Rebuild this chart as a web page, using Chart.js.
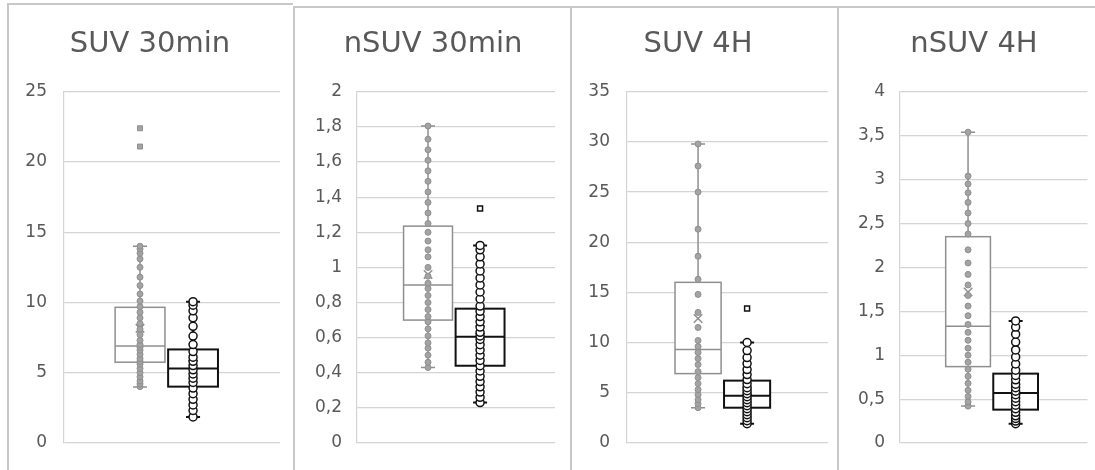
<!DOCTYPE html>
<html>
<head>
<meta charset="utf-8">
<script src="https://cdn.jsdelivr.net/npm/chart.js@4.4.1/dist/chart.umd.min.js"></script>
<style>
  body { margin: 0; background: #fff; width: 1095px; height: 470px; overflow: hidden; position: relative; }
  canvas { position: absolute; top: 0; }
  .frame { position: absolute; border-left: 2px solid #c8c8c8; border-top: 2px solid #c8c8c8; height: 470px; z-index: 2; }
</style>
</head>
<body>
<div class="frame" style="left:7px; top:3px; width:284px;"></div>
<div class="frame" style="left:293px; top:6px; width:276px;"></div>
<div class="frame" style="left:570px; top:6px; width:265px;"></div>
<div class="frame" style="left:837px; top:6px; width:258px;"></div>
<canvas id="suv30" width="283" height="470" style="left:9px"></canvas>
<canvas id="nsuv30" width="275" height="470" style="left:295px"></canvas>
<canvas id="suv4h" width="271" height="470" style="left:565px"></canvas>
<canvas id="nsuv4h" width="256" height="470" style="left:839px"></canvas>
<script>
// box stats: [whisker low, Q1, median, Q3, whisker high, mean]
// ---- SUV 30min
const suv30Ticks = [0, 5, 10, 15, 20, 25];
const suv30GrayStats = [3.97, 5.74, 6.9, 9.65, 14.0, 8.15];
const suv30GrayPoints = [4.0, 4.2, 4.4, 4.7, 5.0, 5.3, 5.6, 5.8, 6.0, 6.3, 6.6, 6.8, 7.0, 7.3, 7.7, 8.1, 8.5, 8.9, 9.3, 9.7, 10.1, 10.6, 11.2, 11.8, 12.5, 13.1, 13.5, 13.8, 14.0];
const suv30GrayOutliers = [21.1, 22.4];
const suv30BlackStats = [1.84, 4.0, 5.3, 6.65, 10.05, 5.6];
const suv30BlackPoints = [1.84, 2.3, 2.7, 3.1, 3.5, 3.9, 4.3, 4.6, 4.9, 5.2, 5.5, 5.8, 6.1, 6.5, 7.0, 7.6, 8.3, 8.9, 9.4, 9.8, 10.05];
const suv30BlackOutliers = [];

// ---- nSUV 30min
const nsuv30Ticks = [0, 0.2, 0.4, 0.6, 0.8, 1, 1.2, 1.4, 1.6, 1.8, 2];
const nsuv30GrayStats = [0.43, 0.70, 0.90, 1.235, 1.805, 0.96];
const nsuv30GrayPoints = [0.43, 0.46, 0.50, 0.54, 0.57, 0.61, 0.65, 0.69, 0.72, 0.76, 0.80, 0.84, 0.88, 0.91, 0.95, 1.00, 1.06, 1.10, 1.15, 1.20, 1.25, 1.31, 1.37, 1.43, 1.49, 1.55, 1.61, 1.67, 1.73, 1.805];
const nsuv30GrayOutliers = [];
const nsuv30BlackStats = [0.23, 0.44, 0.605, 0.765, 1.125, 0.645];
const nsuv30BlackPoints = [0.23, 0.26, 0.29, 0.32, 0.35, 0.38, 0.41, 0.44, 0.47, 0.50, 0.53, 0.56, 0.59, 0.61, 0.63, 0.66, 0.69, 0.72, 0.75, 0.78, 0.82, 0.86, 0.90, 0.94, 0.98, 1.02, 1.06, 1.10, 1.125];
const nsuv30BlackOutliers = [1.335];

// ---- SUV 4H
const suv4hTicks = [0, 5, 10, 15, 20, 25, 30, 35];
const suv4hGrayStats = [3.5, 6.9, 9.3, 16.0, 29.8, 12.4];
const suv4hGrayPoints = [3.5, 3.9, 4.3, 4.8, 5.3, 5.9, 6.5, 7.1, 7.8, 8.4, 9.0, 9.6, 10.2, 11.5, 13.0, 14.8, 16.3, 18.6, 21.3, 25.0, 27.6, 29.8];
const suv4hGrayOutliers = [];
const suv4hBlackStats = [1.9, 3.5, 4.7, 6.2, 10.0, 5.2];
const suv4hBlackPoints = [1.9, 2.2, 2.5, 2.8, 3.1, 3.4, 3.7, 4.0, 4.3, 4.6, 4.9, 5.2, 5.5, 5.9, 6.3, 6.8, 7.3, 7.9, 8.5, 9.2, 10.0];
const suv4hBlackOutliers = [13.4];

// ---- nSUV 4H
const nsuv4hTicks = [0, 0.5, 1, 1.5, 2, 2.5, 3, 3.5, 4];
const nsuv4hGrayStats = [0.42, 0.87, 1.33, 2.35, 3.54, 1.72];
const nsuv4hGrayPoints = [0.42, 0.47, 0.53, 0.6, 0.68, 0.76, 0.84, 0.92, 1.0, 1.08, 1.17, 1.26, 1.35, 1.45, 1.56, 1.68, 1.8, 1.92, 2.05, 2.2, 2.38, 2.5, 2.62, 2.74, 2.85, 2.95, 3.04, 3.54];
const nsuv4hGrayOutliers = [];
const nsuv4hBlackStats = [0.22, 0.38, 0.57, 0.79, 1.39, 0.62];
const nsuv4hBlackPoints = [0.22, 0.25, 0.28, 0.31, 0.35, 0.39, 0.43, 0.47, 0.51, 0.55, 0.59, 0.63, 0.67, 0.72, 0.77, 0.83, 0.9, 0.98, 1.06, 1.15, 1.24, 1.32, 1.39];
const nsuv4hBlackOutliers = [];

const GRAY = '#8f8f8f';
const BLACK = '#111111';

Chart.defaults.font.family = "'DejaVu Sans', sans-serif";
Chart.defaults.color = '#595959';

// draws box, median and whiskers from the stats arrays using the chart scales
const boxPlugin = {
    id: 'boxes',
    beforeDatasetsDraw(chart, args, opts) {
        const ctx = chart.ctx;
        const xs = chart.scales.x, ys = chart.scales.y;
        opts.items.forEach(b => {
            const [lo, q1, med, q3, hi] = b.stats;
            const cx = xs.getPixelForValue(b.pos);
            const half = xs.getPixelForValue(b.pos + opts.halfWidth) - cx;
            const cap = 7;
            const yLo = ys.getPixelForValue(lo), yQ1 = ys.getPixelForValue(q1);
            const yMed = ys.getPixelForValue(med), yQ3 = ys.getPixelForValue(q3);
            const yHi = ys.getPixelForValue(hi);
            ctx.save();
            ctx.strokeStyle = b.color;
            ctx.lineWidth = b.width;
            ctx.fillStyle = '#ffffff';
            ctx.fillRect(cx - half, yQ3, half * 2, yQ1 - yQ3);
            ctx.beginPath();
            // whiskers
            ctx.moveTo(cx, yQ3); ctx.lineTo(cx, yHi);
            ctx.moveTo(cx, yQ1); ctx.lineTo(cx, yLo);
            ctx.moveTo(cx - cap, yHi); ctx.lineTo(cx + cap, yHi);
            ctx.moveTo(cx - cap, yLo); ctx.lineTo(cx + cap, yLo);
            ctx.stroke();
            ctx.strokeRect(cx - half, yQ3, half * 2, yQ1 - yQ3);
            ctx.beginPath();
            ctx.moveTo(cx - half, yMed); ctx.lineTo(cx + half, yMed);
            ctx.stroke();
            ctx.restore();
        });
    }
};

function pts(values, pos) {
    return values.map(v => ({ x: pos, y: v }));
}

function makePanel(id, title, ticks, gray, black, lay) {
    const datasets = [
        { data: pts(gray.points, 1), pointStyle: 'circle', radius: 3, backgroundColor: '#a3a3a3', borderColor: GRAY, borderWidth: 1 },
        { data: pts(gray.outliers, 1), pointStyle: 'rect', radius: 3.5, backgroundColor: '#a3a3a3', borderColor: GRAY, borderWidth: 1 },
        { data: pts([gray.stats[5]], 1), pointStyle: 'crossRot', radius: 6, borderColor: GRAY, borderWidth: 1.5 },
        { data: pts(black.points, 2), pointStyle: 'circle', radius: 4, backgroundColor: '#ffffff', borderColor: BLACK, borderWidth: 1.5 },
        { data: pts(black.outliers, 2), pointStyle: 'rect', radius: 3.5, backgroundColor: '#ffffff', borderColor: BLACK, borderWidth: 1.5 },
        { data: pts([black.stats[5]], 2), pointStyle: 'crossRot', radius: 6, borderColor: BLACK, borderWidth: 1.5 }
    ];
    return new Chart(document.getElementById(id), {
        type: 'scatter',
        data: { datasets: datasets },
        options: {
            responsive: false,
            animation: false,
            devicePixelRatio: 1,
            layout: { padding: { left: lay.padL, right: lay.padR, top: 0, bottom: 27 } },
            plugins: {
                legend: { display: false },
                tooltip: { enabled: false },
                title: {
                    display: true,
                    text: title,
                    color: '#595959',
                    font: { size: 29, weight: 'normal' },
                    padding: { top: 27, bottom: 30 }
                },
                boxes: {
                    halfWidth: 0.47,
                    items: [
                        { pos: 1, stats: gray.stats, color: GRAY, width: 1.5 },
                        { pos: 2, stats: black.stats, color: BLACK, width: 2 }
                    ]
                }
            },
            scales: {
                x: { type: 'linear', display: false, min: lay.xMin, max: lay.xMax },
                y: {
                    min: ticks[0],
                    max: ticks[ticks.length - 1],
                    afterBuildTicks: axis => { axis.ticks = ticks.map(v => ({ value: v })); },
                    afterFit: axis => { axis.width = lay.axisW; },
                    grid: { color: '#d4d4d4', lineWidth: 1.2, drawTicks: false },
                    border: { display: true, color: '#d4d4d4', width: 1.2 },
                    ticks: {
                        padding: lay.tickPad,
                        color: '#595959',
                        font: { size: 17 },
                        callback: v => String(v).replace('.', ',')
                    }
                }
            }
        },
        plugins: [boxPlugin]
    });
}

makePanel('suv30', 'SUV 30min', suv30Ticks,
    { stats: suv30GrayStats, points: suv30GrayPoints, outliers: suv30GrayOutliers },
    { stats: suv30BlackStats, points: suv30BlackPoints, outliers: suv30BlackOutliers },
    { padL: 11, padR: 12, axisW: 44, tickPad: 17, xMin: -0.434, xMax: 3.64 });

makePanel('nsuv30', 'nSUV 30min', nsuv30Ticks,
    { stats: nsuv30GrayStats, points: nsuv30GrayPoints, outliers: nsuv30GrayOutliers },
    { stats: nsuv30BlackStats, points: nsuv30BlackPoints, outliers: nsuv30BlackOutliers },
    { padL: 16, padR: 15, axisW: 46, tickPad: 15, xMin: -0.365, xMax: 3.44 });

makePanel('suv4h', 'SUV 4H', suv4hTicks,
    { stats: suv4hGrayStats, points: suv4hGrayPoints, outliers: suv4hGrayOutliers },
    { stats: suv4hBlackStats, points: suv4hBlackPoints, outliers: suv4hBlackOutliers },
    { padL: 3, padR: 8, axisW: 59, tickPad: 17, xMin: -0.449, xMax: 3.65 });

makePanel('nsuv4h', 'nSUV 4H', nsuv4hTicks,
    { stats: nsuv4hGrayStats, points: nsuv4hGrayPoints, outliers: nsuv4hGrayOutliers },
    { stats: nsuv4hBlackStats, points: nsuv4hBlackPoints, outliers: nsuv4hBlackOutliers },
    { padL: 16, padR: 2, axisW: 45, tickPad: 15, xMin: -0.43, xMax: 3.51 });
</script>
</body>
</html>
